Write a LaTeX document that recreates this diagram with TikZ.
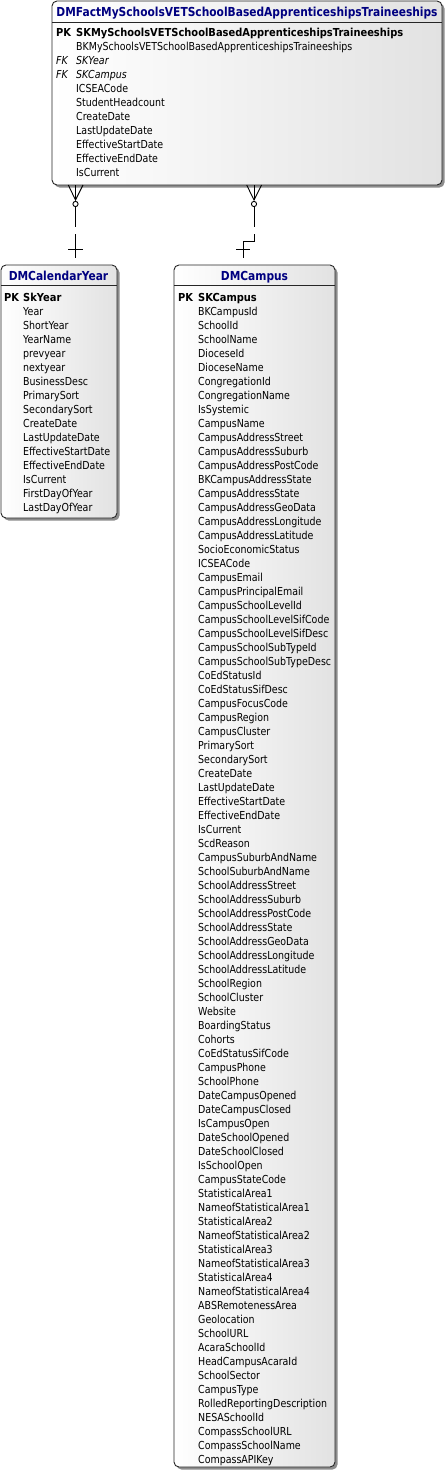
\documentclass[tikz,border=0pt]{standalone}
\usepackage{fontspec}
\setmainfont{DejaVu Sans}[FakeStretch=0.86]
\newfontfamily\pkfont{DejaVu Sans}[FakeStretch=0.9]
\newfontfamily\titlefont{DejaVu Sans}[FakeStretch=0.86]
\usetikzlibrary{shadows}
\definecolor{titleblue}{RGB}{0,0,128}
\definecolor{tabgray}{RGB}{226,226,226}
\begin{document}
\begin{tikzpicture}[x=1pt,y=-1pt,
  tbl/.style={draw=black!85, line width=0.9pt, rounded corners=5pt,
    left color=white, right color=tabgray, inner sep=0pt, outer sep=0pt,
    anchor=north west,
    drop shadow={shadow xshift=2.5pt, shadow yshift=-2.5pt, fill=black!45, opacity=1}},
  sepline/.style={draw=black!85, line width=0.9pt},
  ttl/.style={font=\titlefont\fontsize{12.4}{14}\selectfont\bfseries, text=titleblue, inner sep=0pt, anchor=base},
  fld/.style={font=\fontsize{11}{13}\selectfont, text=black, inner sep=0pt, anchor=base west},
  pkf/.style={fld, font=\pkfont\fontsize{11}{13}\selectfont\bfseries},
  fkf/.style={fld, font=\fontsize{11}{13}\selectfont\itshape},
  rel/.style={draw=black, line width=0.9pt}
]
\useasboundingbox (0,0) rectangle (446,1477);

% ---------- Fact table ----------
\node[tbl, minimum width=390pt, minimum height=184pt] (fact) at (52,1) {};
\draw[sepline] (52,22) -- (442,22);
\node[ttl] (facttitle) at (247,16.7) {DMFactMySchoolsVETSchoolBasedApprenticeshipsTraineeships};
\node[pkf] (fpk) at (56,36.5) {PK};
\node[pkf] (f0) at (76,36.5) {SKMySchoolsVETSchoolBasedApprenticeshipsTraineeships};
\node[fld] (f1) at (76,50.5) {BKMySchoolsVETSchoolBasedApprenticeshipsTraineeships};
\node[fkf] (ffk1) at (56,64.5) {FK};
\node[fkf] (f2) at (76,64.5) {SKYear};
\node[fkf] (ffk2) at (56,78.5) {FK};
\node[fkf] (f3) at (76,78.5) {SKCampus};
\foreach \t [count=\i from 4] in {ICSEACode,StudentHeadcount,CreateDate,LastUpdateDate,EffectiveStartDate,EffectiveEndDate,IsCurrent}
  \node[fld] (f\i) at (76,36.5+14*\i) {\t};

% ---------- Calendar table ----------
\node[tbl, minimum width=116pt, minimum height=253pt] (cal) at (1,265) {};
\draw[sepline] (1,285) -- (117,285);
\node[ttl] (caltitle) at (58.5,280.5) {DMCalendarYear};
\node[pkf] (cpk) at (4,301) {PK};
\node[pkf] (c0) at (23,301) {SkYear};
\foreach \t [count=\i from 1] in {Year,ShortYear,YearName,prevyear,nextyear,BusinessDesc,PrimarySort,SecondarySort,CreateDate,LastUpdateDate,EffectiveStartDate,EffectiveEndDate,IsCurrent,FirstDayOfYear,LastDayOfYear}
  \node[fld] (c\i) at (23,301+14*\i) {\t};

% ---------- Campus table ----------
\node[tbl, minimum width=161pt, minimum height=1202pt] (cmp) at (174,265) {};
\draw[sepline] (174,285) -- (335,285);
\node[ttl] (cmptitle) at (254.5,280.5) {DMCampus};
\node[pkf] (mpk) at (178,301) {PK};
\node[pkf] (m0) at (198,301) {SKCampus};
\foreach \t [count=\i from 1] in {BKCampusId,SchoolId,SchoolName,DioceseId,DioceseName,CongregationId,CongregationName,IsSystemic,CampusName,CampusAddressStreet,CampusAddressSuburb,CampusAddressPostCode,BKCampusAddressState,CampusAddressState,CampusAddressGeoData,CampusAddressLongitude,CampusAddressLatitude,SocioEconomicStatus,ICSEACode,CampusEmail,CampusPrincipalEmail,CampusSchoolLevelId,CampusSchoolLevelSifCode,CampusSchoolLevelSifDesc,CampusSchoolSubTypeId,CampusSchoolSubTypeDesc,CoEdStatusId,CoEdStatusSifDesc,CampusFocusCode,CampusRegion,CampusCluster,PrimarySort,SecondarySort,CreateDate,LastUpdateDate,EffectiveStartDate,EffectiveEndDate,IsCurrent,ScdReason,CampusSuburbAndName,SchoolSuburbAndName,SchoolAddressStreet,SchoolAddressSuburb,SchoolAddressPostCode,SchoolAddressState,SchoolAddressGeoData,SchoolAddressLongitude,SchoolAddressLatitude,SchoolRegion,SchoolCluster,Website,BoardingStatus,Cohorts,CoEdStatusSifCode,CampusPhone,SchoolPhone,DateCampusOpened,DateCampusClosed,IsCampusOpen,DateSchoolOpened,DateSchoolClosed,IsSchoolOpen,CampusStateCode,StatisticalArea1,NameofStatisticalArea1,StatisticalArea2,NameofStatisticalArea2,StatisticalArea3,NameofStatisticalArea3,StatisticalArea4,NameofStatisticalArea4,ABSRemotenessArea,Geolocation,SchoolURL,AcaraSchoolId,HeadCampusAcaraId,SchoolSector,CampusType,RolledReportingDescription,NESASchoolId,CompassSchoolURL,CompassSchoolName,CompassAPIKey}
  \node[fld] (m\i) at (198,301+14*\i) {\t};

% ---------- Relationship: fact -> calendar ----------
\coordinate (r1a) at (75.5,185);
\coordinate (r1b) at (75.5,200);
\coordinate (r1c) at (75.5,204);
\coordinate (r1d) at (75.5,227);
\coordinate (r1e) at (75.5,234);
\coordinate (r1f) at (75.5,258);
\draw[rel] (68.3,185) -- (r1b) -- (83,185);
\draw[rel] (r1a) -- (r1b);
\draw[rel] (r1c) circle (2.6pt);
\draw[rel] ([yshift=-2.6pt]r1c) -- (r1d);
\draw[rel] (r1e) -- (r1f);
\draw[rel] (68,249) -- (83,249);

% ---------- Relationship: fact -> campus ----------
\coordinate (r2a) at (254,185);
\coordinate (r2b) at (254,200);
\coordinate (r2c) at (254,204);
\coordinate (r2d) at (254,227);
\coordinate (r2e) at (254,234);
\coordinate (r2f) at (254,241.5);
\coordinate (r2g) at (243.5,241.5);
\coordinate (r2h) at (243.5,258);
\draw[rel] (246.7,185) -- (r2b) -- (261.5,185);
\draw[rel] (r2a) -- (r2b);
\draw[rel] (r2c) circle (2.6pt);
\draw[rel] ([yshift=-2.6pt]r2c) -- (r2d);
\draw[rel] (r2e) -- (r2f) -- (r2g) -- (r2h);
\draw[rel] (236,249) -- (250,249);
\end{tikzpicture}
\end{document}
